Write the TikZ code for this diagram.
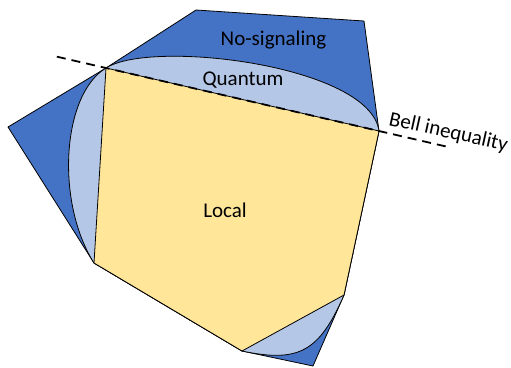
\documentclass[tikz,border=0pt]{standalone}
\usepackage{fontspec}
\setmainfont{Carlito}
\usepackage{tikz}
\usetikzlibrary{calc}
\usepackage{xcolor}
\definecolor{NSBlue}{HTML}{4472C4}
\definecolor{QBlue}{HTML}{B4C7E7}
\definecolor{LYellow}{HTML}{FFE699}
\definecolor{EdgeBlack}{HTML}{000000}
\tikzset{
    % Region styles
    nosignaling/.style={
        fill=NSBlue,
        draw=EdgeBlack,
        line width=0.8pt,
        line join=round
    },
    quantum/.style={
        fill=QBlue,
        draw=EdgeBlack,
        line width=0.8pt,
        line join=round
    },
    local/.style={
        fill=LYellow,
        draw=EdgeBlack,
        line width=0.8pt,
        line join=round
    },
    % Facet line
    bellline/.style={
        draw=EdgeBlack,
        line width=1.8pt,
        dash pattern=on 9pt off 6pt
    },
    % Labels
    label/.style={
        font=\fontsize{21}{25}\selectfont,
        inner sep=0pt,
        anchor=base
    }
}

\begin{document}
\begin{tikzpicture}[x=1pt, y=-1pt]
    \useasboundingbox (0,0) rectangle (511,367);

    % vertices of the local polytope
    \coordinate (A) at (106,68);
    \coordinate (B) at (379,131);
    \coordinate (C) at (344,295);
    \coordinate (D) at (242,351);
    \coordinate (E) at (94,263);

    % outer vertices of the no-signaling polytope
    \coordinate (nsTop) at (196,10);
    \coordinate (nsRight) at (364,21);
    \coordinate (nsLeft) at (8,127);
    \coordinate (nsBottom) at (313,366);

    \draw[nosignaling] (nsTop) -- (nsRight) -- (B) -- (C) -- (nsBottom)
        -- (D) -- (E) -- (nsLeft) -- (A) -- cycle;

    \draw[quantum] (A) .. controls ($(A)!0.5!(nsTop)$) and ($(B)!0.6!(nsRight)$) .. (B)
        -- (C) .. controls ($(C)!0.8!(nsBottom)$) and ($(D)!0.8!(nsBottom)$) .. (D)
        -- (E) .. controls ($(E)!0.45!(nsLeft)$) and ($(A)!0.45!(nsLeft)$) .. (A) -- cycle;

    \draw[local] (A) -- (B) -- (C) -- (D) -- (E) -- cycle;

    \coordinate (bellStart) at ($(A)!-0.18!(B)$);
    \coordinate (bellEnd) at ($(A)!1.26!(B)$);
    \draw[bellline] (bellStart) -- (bellEnd);

    \node[label] (nslabel) at (273.5,45) {No-signaling};
    \node[label] (qlabel) at (243,85) {Quantum};
    \node[label] (llabel) at (225,217) {Local};
    \node[label, anchor=base west, rotate=-12.5] (belllabel) at (388,125) {Bell inequality};
\end{tikzpicture}
\end{document}
